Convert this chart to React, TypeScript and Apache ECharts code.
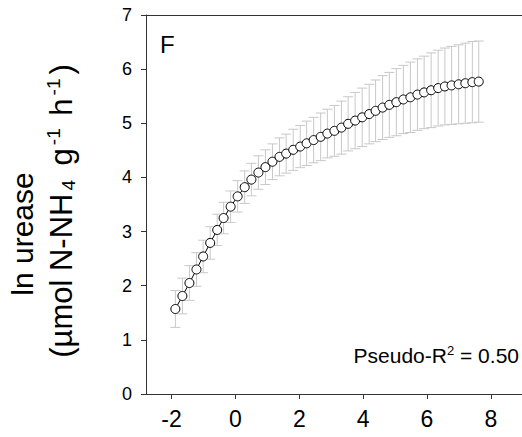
import React, { useEffect, useRef } from "react";
import * as echarts from "echarts";

const xValues = [
  -1.88, -1.66, -1.44, -1.22, -1.01, -0.79, -0.57, -0.37, -0.15, 0.07,
  0.29, 0.5, 0.72, 0.94, 1.16, 1.38, 1.59, 1.81, 2.03, 2.23,
  2.45, 2.67, 2.88, 3.1, 3.32, 3.53, 3.75, 3.97, 4.19, 4.39,
  4.61, 4.82, 5.04, 5.26, 5.48, 5.7, 5.91, 6.13, 6.35, 6.56,
  6.77, 6.99, 7.2, 7.42, 7.62,
];
const yValues = [
  1.57, 1.81, 2.05, 2.3, 2.54, 2.79, 3.03, 3.25, 3.46, 3.65,
  3.82, 3.96, 4.09, 4.19, 4.29, 4.38, 4.44, 4.51, 4.57, 4.63,
  4.69, 4.75, 4.81, 4.86, 4.92, 4.99, 5.05, 5.11, 5.17, 5.23,
  5.29, 5.34, 5.39, 5.44, 5.48, 5.53, 5.57, 5.61, 5.65, 5.68,
  5.7, 5.72, 5.74, 5.76, 5.77,
];
const errValues = [
  0.34, 0.33, 0.32, 0.31, 0.3, 0.3, 0.29, 0.29, 0.29, 0.29,
  0.3, 0.3, 0.31, 0.32, 0.33, 0.35, 0.36, 0.38, 0.39, 0.41,
  0.42, 0.44, 0.45, 0.47, 0.49, 0.5, 0.52, 0.54, 0.55, 0.57,
  0.59, 0.6, 0.62, 0.63, 0.65, 0.66, 0.67, 0.69, 0.7, 0.71,
  0.72, 0.73, 0.74, 0.75, 0.75,
];
const xTicks = [-2, 0, 2, 4, 6, 8];
const yTicks = [0, 1, 2, 3, 4, 5, 6, 7];

export default function App() {
  const ref = useRef<HTMLDivElement>(null);
  useEffect(() => {
    document.body.style.margin = "0";
    document.body.style.overflow = "hidden";
    const chart = echarts.init(ref.current!, null, { renderer: "svg" });
    const font = "'Liberation Sans', Arial, sans-serif";
    const points = xValues.map((x, i) => [x, yValues[i]]);
    const bars = xValues.map((x, i) => [x, yValues[i] - errValues[i], yValues[i] + errValues[i]]);
    const axisColor = "#333";
    chart.setOption({
      animation: false,
      grid: { left: 146, top: 15, width: 380, height: 379, outerBoundsMode: "none", containLabel: false },
      xAxis: [
        {
          type: "value", min: -2.8, max: 9.1,
          axisLine: { show: true, onZero: false, lineStyle: { color: axisColor, width: 1 } },
          axisTick: { show: true, customValues: xTicks, length: 5, lineStyle: { color: axisColor } },
          axisLabel: { customValues: xTicks, fontSize: 23, color: "#000", margin: 13, fontFamily: font },
          splitLine: { show: false },
        },
        {
          type: "value", min: -2.8, max: 9.1, position: "top",
          axisLine: { show: true, onZero: false, lineStyle: { color: axisColor, width: 1 } },
          axisTick: { show: false },
          axisLabel: { show: false },
          splitLine: { show: false },
        },
      ],
      yAxis: {
        type: "value", min: 0, max: 7,
        axisLine: { show: true, onZero: false, lineStyle: { color: axisColor, width: 1 } },
        axisTick: { show: true, customValues: yTicks, length: 5, lineStyle: { color: axisColor } },
        axisLabel: { customValues: yTicks, fontSize: 18, color: "#000", margin: 14, fontFamily: font },
        splitLine: { show: false },
      },
      series: [
        {
          type: "custom",
          data: bars,
          z: 1,
          encode: { x: 0, y: [1, 2] },
          renderItem: (params: any, api: any) => {
            const x = api.value(0);
            const lo = api.coord([x, api.value(1)]);
            const hi = api.coord([x, api.value(2)]);
            const hw = 5;
            const style = { stroke: "#c8c8c8", lineWidth: 1 };
            return {
              type: "group",
              children: [
                { type: "line", shape: { x1: lo[0], y1: lo[1], x2: hi[0], y2: hi[1] }, style },
                { type: "line", shape: { x1: lo[0] - hw, y1: lo[1], x2: lo[0] + hw, y2: lo[1] }, style },
                { type: "line", shape: { x1: hi[0] - hw, y1: hi[1], x2: hi[0] + hw, y2: hi[1] }, style },
              ],
            };
          },
        },
        {
          type: "line",
          data: points,
          z: 2,
          symbol: "circle",
          symbolSize: 9,
          showAllSymbol: true,
          itemStyle: { color: "#fff", borderColor: "#000", borderWidth: 1 },
          lineStyle: { color: "#000", width: 1 },
        },
      ],
      graphic: [
        {
          type: "text", left: 160, top: 32,
          style: { text: "F", fontSize: 24, fontFamily: font, fill: "#000" },
        },
        {
          type: "text", x: 519, y: 355,
          style: {
            text: "Pseudo-R{sup|2} = 0.50",
            fontSize: 21, fontFamily: font, fill: "#000", align: "right", verticalAlign: "middle",
            rich: {
              sup: { fontSize: 13, fontFamily: font, fill: "#000", verticalAlign: "top", padding: [0, 0, 9, 0] },
            },
          },
        },
        {
          type: "text", x: 22, y: 234, rotation: Math.PI / 2,
          style: {
            text: "ln urease", fontSize: 30, fontFamily: font, fill: "#000", align: "center", verticalAlign: "middle",
          },
        },
        {
          type: "text", x: 61, y: 211, rotation: Math.PI / 2,
          style: {
            text: "(µmol N-NH{sub|4} g{sup|-1} h{sup|-1})",
            fontSize: 31, fontFamily: font, fill: "#000", align: "center", verticalAlign: "middle",
            rich: {
              sub: { fontSize: 19, fontFamily: font, fill: "#000", verticalAlign: "bottom", padding: [15, 6, 0, 3] },
              sup: { fontSize: 19, fontFamily: font, fill: "#000", verticalAlign: "top", padding: [0, 4, 15, 3] },
            },
          },
        },
      ],
    });
    return () => chart.dispose();
  }, []);
  return (
    <div style={{ width: 522, height: 437, overflow: "hidden" }}>
      <div ref={ref} style={{ width: 540, height: 437 }} />
    </div>
  );
}
